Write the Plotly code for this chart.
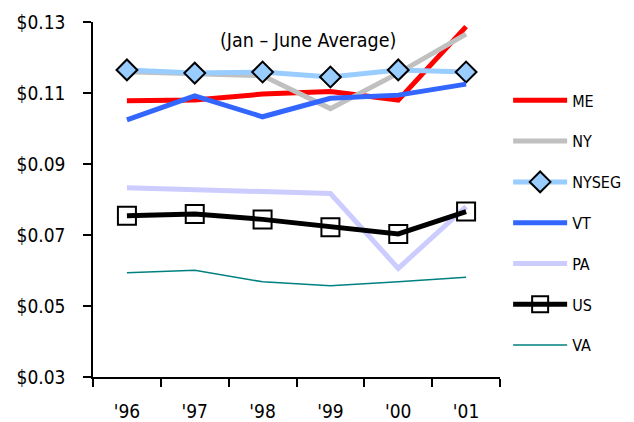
import plotly.graph_objects as go

years = ["'96", "'97", "'98", "'99", "'00", "'01"]
ME = [0.1078, 0.1080, 0.1097, 0.1104, 0.1080, 0.1287]
NY = [0.1160, 0.1156, 0.1149, 0.1056, 0.1156, 0.1266]
NYSEG = [0.1165, 0.1156, 0.1159, 0.1145, 0.1165, 0.1159]
VT = [0.1024, 0.1092, 0.1033, 0.1085, 0.1094, 0.1125]
PA = [0.0833, 0.0827, 0.0820, 0.0817, 0.0606, 0.0780]
US = [0.0754, 0.0759, 0.0744, 0.0722, 0.0703, 0.0766]
VA = [0.0594, 0.0601, 0.0568, 0.0557, 0.0568, 0.0581]

y_ticks = [0.03, 0.05, 0.07, 0.09, 0.11, 0.13]
y_ticktext = ["$0.03", "$0.05", "$0.07", "$0.09", "$0.11", "$0.13"]

FONT = "DejaVu Sans Condensed, Liberation Sans Narrow, Roboto, sans-serif"

fig = go.Figure()
series = [
    ("ME", ME, dict(color="#ff0000", width=5), None),
    ("NY", NY, dict(color="#c0c0c0", width=5), None),
    ("NYSEG", NYSEG, dict(color="#99ccff", width=5),
     dict(symbol="diamond", size=16, color="#99ccff", line=dict(color="black", width=2))),
    ("VT", VT, dict(color="#3366ff", width=5), None),
    ("PA", PA, dict(color="#ccccff", width=5), None),
    ("US", US, dict(color="black", width=5),
     dict(symbol="square-open", size=18, color="black", line=dict(color="black", width=2))),
    ("VA", VA, dict(color="#008080", width=1.5), None),
]
for i, (name, vals, line, marker) in enumerate(series):
    kw = dict(x=years, y=vals, name=name, line=line, legendgroup=name)
    if marker:
        kw["mode"] = "lines+markers"
        kw["marker"] = marker
    else:
        kw["mode"] = "lines"
    fig.add_trace(go.Scatter(**kw))

fig.add_annotation(text="(Jan – June Average)", xref="paper", yref="paper",
                   x=0.528, y=0.949, xanchor="center", yanchor="middle", showarrow=False,
                   font=dict(family=FONT, size=19.5, color="black"))

fig.update_layout(
    width=634, height=422,
    margin=dict(l=85, r=142, t=14, b=53, autoexpand=False),
    plot_bgcolor="white", paper_bgcolor="white",
    font=dict(family=FONT, size=19, color="black"),
    showlegend=True,
    legend=dict(x=1.02, xanchor="left", y=0.827, yanchor="top",
                traceorder="grouped", tracegroupgap=17,
                font=dict(family=FONT, size=16), itemwidth=54,
                bgcolor="rgba(0,0,0,0)"),
)
fig.update_xaxes(type="category", range=[-0.5, 5.5], showline=True, linecolor="black",
                 linewidth=1.5, ticks="outside", tickson="boundaries", ticklen=8,
                 tickcolor="black", tickwidth=1.5, showgrid=False, zeroline=False,
                 ticklabelstandoff=16, automargin=False)
fig.update_yaxes(range=[0.03, 0.13], tickvals=y_ticks, ticktext=y_ticktext,
                 showline=True, linecolor="black", linewidth=1.5, ticks="outside",
                 ticklen=8, tickcolor="black", tickwidth=1.5, showgrid=False,
                 zeroline=False, ticklabelstandoff=14, automargin=False)

fig.write_html("out.html")
